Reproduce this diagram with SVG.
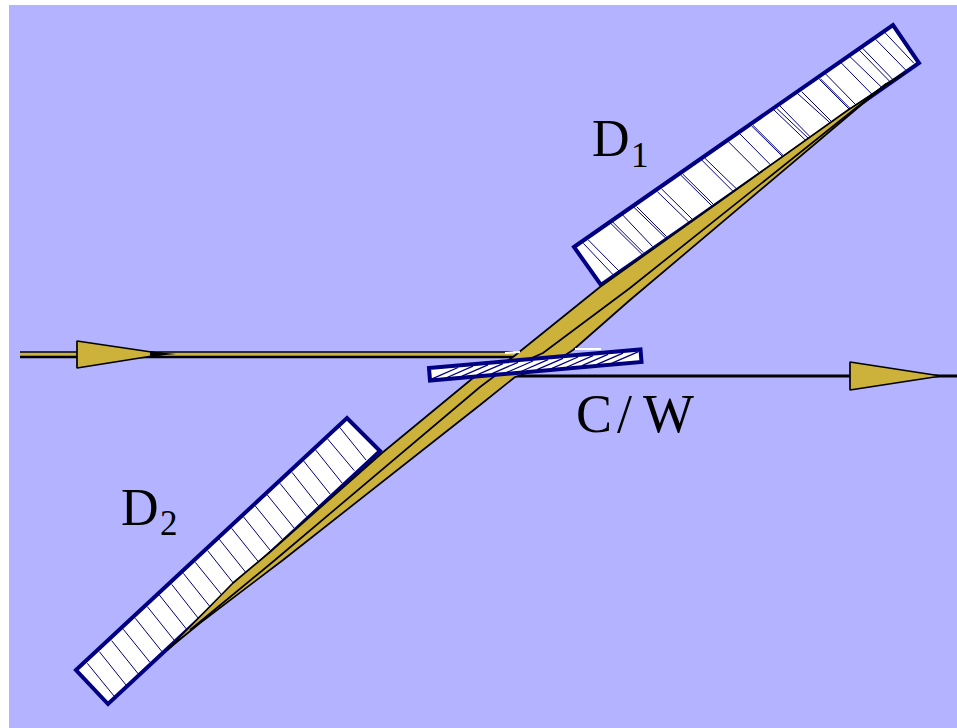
<svg xmlns="http://www.w3.org/2000/svg" width="957" height="728" viewBox="0 0 957 728">
<style>
.gold{fill:#ccb23a;stroke:#000;stroke-width:1.700;stroke-linejoin:bevel}
.ray{fill:none;stroke:#000;stroke-width:1.700}
.det{fill:#fff;stroke:#000080;stroke-width:4}
.h{fill:none;stroke:#000080;stroke-width:1;vector-effect:non-scaling-stroke}
.t{font-family:"Liberation Serif","DejaVu Serif",serif;fill:#000}
</style>
<rect width="957" height="728" fill="#fff"/>
<rect x="9" y="5" width="948" height="723" fill="#b3b3ff"/>
<g id="D1">
<polygon class="det" points="574,247 893,25 919,63 601,285"/>
<path class="h" transform="translate(560 10) scale(.33333)" d="M70 700L160 795M85 690L177 783M152 640L248 735M158 636L250 728M188 615L278 710M222 592L318 685M230 590L320 680M292 545L388 638M305 537L397 628M362 495L458 590M368 492L462 585M425 450L520 545M435 445L528 535M505 395L598 488M540 372L632 465M575 348L668 440M579 346L671 438M642 300L738 392M650 295L745 385M660 288L750 380M712 250L812 340M725 245L815 335M778 208L868 298M781 206L871 296M797 192L888 285M843 158L935 252M870 140L965 232M897 120L990 215M908 115L998 208M947 88L1037 180M975 68L1062 160"/>
</g>
<g id="D2">
<polygon class="det" points="76,670 347,418 380,451 108,704"/>
<path class="h" transform="translate(60 400) scale(.33333)" d="M82 790L162 888M118 755L198 855M155 722L235 822M190 688L270 787M226 655L306 755M262 620L342 720M298 585L380 688M335 553L415 655M370 520L450 620M406 487L487 587M443 452L523 553M478 418L558 518M515 385L595 485M550 350L630 450M586 318L667 418M622 285L703 385M660 250L740 350M696 217L775 317M731 183L811 283M767 150L847 250M803 117L883 212M839 82L918 180"/>
</g>
<g id="connectors">
<path d="M20 354.500H513" fill="none" stroke="#ccb23a" stroke-width="4"/>
<path d="M20 352H513" fill="none" stroke="#000" stroke-width="1.500"/>
<path d="M20 357H530" fill="none" stroke="#000" stroke-width="2.500"/>
<path d="M500 376H957" fill="none" stroke="#000" stroke-width="3"/>
<path class="gold" d="M905 73L848 110L733 192L600 287L513 357L490 372L473 378L382 453L270 552L233 583L167 650L200 623L283 560L480 405L515 377L550 365L573 350L630 300L886 84Z"/>
<path class="ray" d="M886 84L630 288L543 353L500 372L480 387L275 560L190 630"/>
<polygon class="gold" points="77,341 77,368 165,354"/>
<polygon points="150,351.500 176,354 150,356.500" fill="#000"/>
<polygon class="gold" points="850,362 850,390 941,376"/>
</g>
<g id="plate">
<path d="M505 353L520 352M575 349L601 349" fill="none" stroke="#fff" stroke-width="2"/>
<polygon class="det" points="429,368 640.500,349.500 641.500,362 430,380.500"/>
<path class="h" style="stroke-width:1.300" d="M432 378.800L458 367.500M447 377.500L473 366.200M462 376.200L488 364.900M477 374.900L503 363.600M492 373.600L518 362.300M507 372.300L533 361M522 371L548 359.700M537 369.600L563 358.300M552 368.300L578 357M567 367L593 355.700M582 365.700L608 354.400M597 364.400L623 353.100M612 363.100L638 351.800"/>
</g>
<g id="label-D1"><text class="t" x="592" y="156" font-size="52">D</text><text class="t" x="631" y="167" font-size="35">1</text></g>
<g id="label-D2"><text class="t" x="121" y="525" font-size="52">D</text><text class="t" x="160" y="535" font-size="35">2</text></g>
<g id="label-CW"><text class="t" x="576 617 643" y="432" font-size="54">C/W</text></g>
</svg>
